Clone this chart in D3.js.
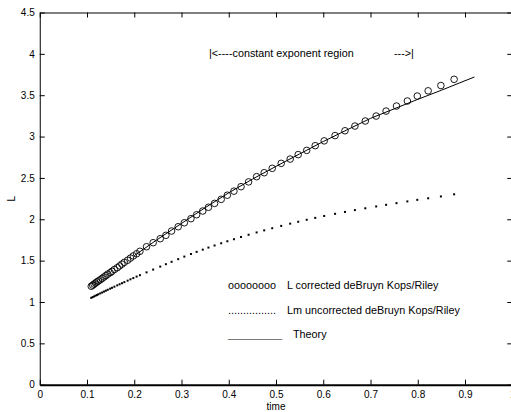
<!DOCTYPE html>
<html>
<head>
<meta charset="utf-8">
<script src="https://cdn.jsdelivr.net/npm/d3@7"></script>
<style>
  body { margin: 0; background: #fff; }
  svg { display: block; font-family: "Liberation Sans", Arial, sans-serif; }
  .axis text { font-size: 10px; fill: #000; }
  .axis path, .axis line { stroke: #000; }
</style>
</head>
<body>
<div id="chart"></div>
<script>
// sample times (same for both measured series)
var times = [0.109, 0.112, 0.115, 0.118, 0.121, 0.124, 0.128, 0.132, 0.136, 0.140, 0.144, 0.149, 0.153, 0.158, 0.164, 0.169, 0.174, 0.179, 0.186, 0.192, 0.198, 0.205, 0.212,
    0.226, 0.240, 0.255, 0.267, 0.279, 0.293, 0.306, 0.320, 0.332, 0.345, 0.357,
    0.370, 0.384, 0.397, 0.411, 0.426, 0.442, 0.459,
    0.475, 0.492, 0.511, 0.530, 0.547, 0.565, 0.583, 0.602, 0.625, 0.646, 0.667, 0.689, 0.712, 0.733, 0.755, 0.778, 0.799, 0.822, 0.849, 0.877];

// L corrected deBruyn Kops/Riley (circles)
var Lcorr = [1.190, 1.203, 1.216, 1.229, 1.242, 1.254, 1.268, 1.285, 1.302, 1.319, 1.337, 1.354, 1.371, 1.393, 1.414, 1.436, 1.458, 1.479, 1.505, 1.531, 1.557, 1.583, 1.613,
    1.668, 1.717, 1.765, 1.806, 1.858, 1.910, 1.958, 2.007, 2.055, 2.100, 2.145,
    2.192, 2.241, 2.291, 2.340, 2.394, 2.452, 2.515,
    2.563, 2.616, 2.676, 2.728, 2.782, 2.833, 2.890, 2.948, 3.012, 3.070, 3.127, 3.188, 3.248, 3.308, 3.369, 3.430, 3.490, 3.553, 3.617, 3.692];

// Lm uncorrected deBruyn Kops/Riley (dots)
var Lmuncorr = [1.050, 1.059, 1.067, 1.076, 1.084, 1.093, 1.104, 1.115, 1.126, 1.137, 1.148, 1.161, 1.172, 1.185, 1.201, 1.214, 1.227, 1.240, 1.258, 1.274, 1.289, 1.307, 1.324,
    1.358, 1.392, 1.428, 1.457, 1.486, 1.518, 1.549, 1.580, 1.606, 1.633, 1.658,
    1.683, 1.710, 1.734, 1.759, 1.786, 1.813, 1.841,
    1.866, 1.892, 1.920, 1.947, 1.970, 1.994, 2.017, 2.040, 2.066, 2.089, 2.111, 2.133, 2.155, 2.175, 2.195, 2.216, 2.235, 2.254, 2.276, 2.302];

// Theory curve
var theoryT = [0.20, 0.25, 0.30, 0.35, 0.40, 0.45, 0.50, 0.55, 0.60, 0.65, 0.70, 0.75, 0.80, 0.85, 0.90, 0.92];
var theoryL = [1.56, 1.76, 1.95, 2.14, 2.32, 2.485, 2.64, 2.79, 2.94, 3.08, 3.22, 3.335, 3.45, 3.56, 3.675, 3.72];

var xTicks = [0, 0.1, 0.2, 0.3, 0.4, 0.5, 0.6, 0.7, 0.8, 0.9, 1];
var yTicks = [0, 0.5, 1, 1.5, 2, 2.5, 3, 3.5, 4, 4.5];

var legendLabels = ["L corrected deBruyn Kops/Riley", "Lm uncorrected deBruyn Kops/Riley", "Theory"];
var legendSymbols = ["oooooooo", "................", "_________"];

var width = 511, height = 412;
var mLeft = 39.75, mRight = 512.25, mTop = 12.5, mBottom = 384.7;
var noteSize = 10.8;

var x = d3.scaleLinear().domain([0, 1]).range([mLeft, mRight]);
var y = d3.scaleLinear().domain([0, 4.5]).range([mBottom, mTop]);

var svg = d3.select("#chart").append("svg")
    .attr("width", width)
    .attr("height", height);

// axes (ticks pointing inward, MATLAB style)
svg.append("g").attr("class", "axis")
    .attr("transform", `translate(0,${mBottom})`)
    .call(d3.axisBottom(x).tickValues(xTicks).tickFormat(d3.format("")).tickSizeInner(-5).tickSizeOuter(0).tickPadding(6))
    .select(".domain").attr("stroke-width", 2);

svg.append("g").attr("class", "axis")
    .attr("transform", `translate(0,${mTop})`)
    .call(d3.axisTop(x).tickValues(xTicks).tickFormat("").tickSizeInner(-5).tickSizeOuter(0));

svg.append("g").attr("class", "axis")
    .attr("transform", `translate(${mLeft},0)`)
    .call(d3.axisLeft(y).tickValues(yTicks).tickFormat(d3.format("")).tickSizeInner(-5).tickSizeOuter(0).tickPadding(5));

svg.append("g").attr("class", "axis")
    .attr("transform", `translate(${mRight},0)`)
    .call(d3.axisRight(y).tickValues(yTicks).tickFormat("").tickSizeInner(-5).tickSizeOuter(0));

svg.selectAll(".axis text").style("font-family", "Liberation Sans, Arial, sans-serif");

// axis labels
svg.append("text")
    .attr("x", (mLeft + mRight) / 2)
    .attr("y", 410)
    .attr("text-anchor", "middle")
    .attr("font-size", 10)
    .text("time");

svg.append("text")
    .attr("transform", `translate(15,${(mTop + mBottom) / 2}) rotate(-90)`)
    .attr("text-anchor", "middle")
    .attr("font-size", 10)
    .text("L");

// theory line
var line = d3.line()
    .x((d, i) => x(theoryT[i]))
    .y(d => y(d));

svg.append("path")
    .datum(theoryL)
    .attr("fill", "none")
    .attr("stroke", "#000")
    .attr("stroke-width", 1)
    .attr("d", line);

// circles
svg.append("g").selectAll("circle")
    .data(Lcorr)
    .join("circle")
    .attr("cx", (d, i) => x(times[i]))
    .attr("cy", d => y(d))
    .attr("r", 3.3)
    .attr("fill", "none")
    .attr("stroke", "#000")
    .attr("stroke-width", 0.9);

// dots
svg.append("g").selectAll("rect")
    .data(Lmuncorr)
    .join("rect")
    .attr("x", (d, i) => x(times[i]) - 1)
    .attr("y", d => y(d) - 1)
    .attr("width", 2)
    .attr("height", 2)
    .attr("fill", "#000");

// annotation
svg.append("text")
    .attr("x", 209)
    .attr("y", 57)
    .attr("font-size", noteSize)
    .text("|<----constant exponent region");

svg.append("text")
    .attr("x", 394)
    .attr("y", 57)
    .attr("font-size", noteSize)
    .text("--->|");

// legend (text-only, like the original)
var legendY = [289, 314, 338];
legendSymbols.forEach((s, i) => {
    svg.append("text")
        .attr("x", 228)
        .attr("y", legendY[i])
        .attr("font-size", noteSize)
        .attr("fill", i == 2 ? "#555" : "#000")
        .text(s);
});
var labelX = [287, 287, 293];
legendLabels.forEach((s, i) => {
    svg.append("text")
        .attr("x", labelX[i])
        .attr("y", legendY[i])
        .attr("font-size", noteSize)
        .text(s);
});
</script>
</body>
</html>
